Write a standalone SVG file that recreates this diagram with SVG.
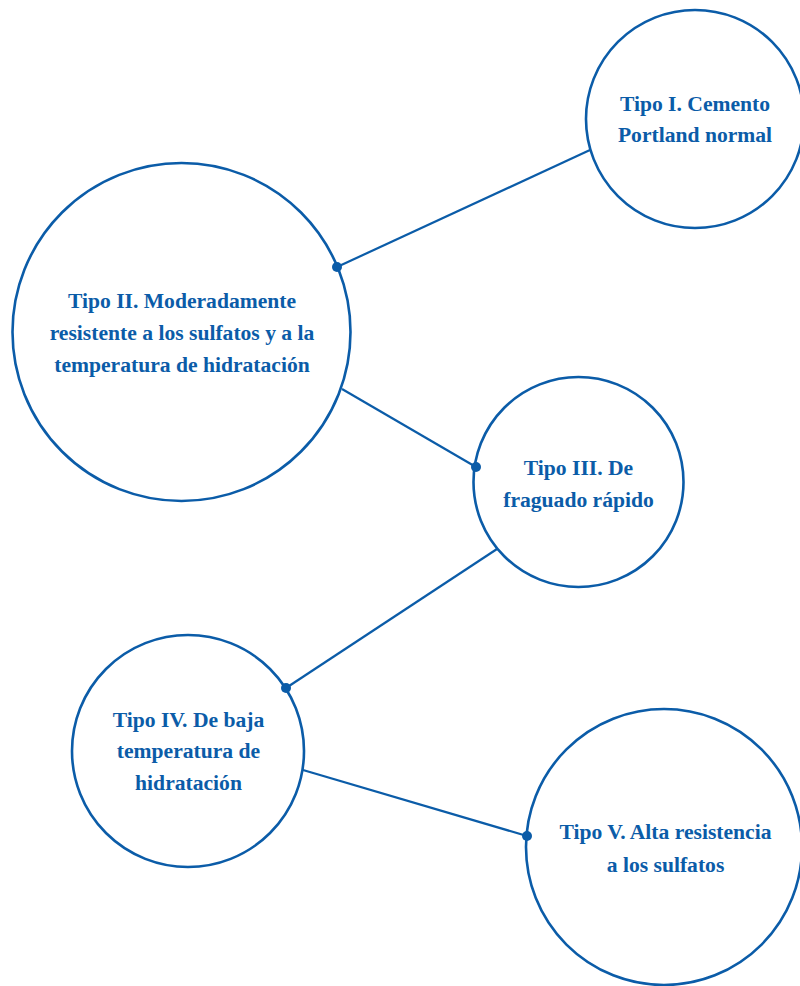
<svg xmlns="http://www.w3.org/2000/svg" width="800" height="986" viewBox="0 0 800 986">
<style>
.node{fill:#fff;stroke:#0b5ca8;stroke-width:2.6}
.lbl{font-family:"Liberation Serif","DejaVu Serif",serif;font-weight:bold;font-size:21.6px;fill:#0b5ca8;text-anchor:middle}
.conn line{stroke:#0b5ca8;stroke-width:2.2}
.dot{fill:#0b5ca8}
</style>
<rect width="800" height="986" fill="#fff"/>
<g id="connectors" class="conn">
<line x1="337" y1="267" x2="590" y2="150"/>
<line x1="342" y1="389" x2="476" y2="467"/>
<line x1="497" y1="549" x2="286" y2="688"/>
<line x1="303" y1="770" x2="527" y2="836"/>
</g>
<g id="n1"><circle class="node" cx="695" cy="119" r="109"/>
<text class="lbl" x="695" y="111">Tipo I. Cemento</text>
<text class="lbl" x="695" y="142">Portland normal</text></g>
<g id="n2"><circle class="node" cx="181.5" cy="332" r="169"/>
<text class="lbl" x="182" y="308">Tipo II. Moderadamente</text>
<text class="lbl" x="182" y="340">resistente a los sulfatos y a la</text>
<text class="lbl" x="182" y="372">temperatura de hidratación</text></g>
<g id="n3"><circle class="node" cx="578.5" cy="482" r="105"/>
<text class="lbl" x="578.5" y="475">Tipo III. De</text>
<text class="lbl" x="578.5" y="507">fraguado rápido</text></g>
<g id="n4"><circle class="node" cx="188" cy="751" r="116"/>
<text class="lbl" x="188.5" y="727">Tipo IV. De baja</text>
<text class="lbl" x="188.5" y="758">temperatura de</text>
<text class="lbl" x="188.5" y="790">hidratación</text></g>
<g id="n5"><circle class="node" cx="664" cy="847" r="138"/>
<text class="lbl" x="665.5" y="839">Tipo V. Alta resistencia</text>
<text class="lbl" x="665.5" y="872">a los sulfatos</text></g>
<g id="dots">
<circle class="dot" cx="337" cy="267" r="5"/>
<circle class="dot" cx="476" cy="467" r="5"/>
<circle class="dot" cx="286" cy="688" r="5"/>
<circle class="dot" cx="527" cy="836" r="5"/>
</g>
</svg>
